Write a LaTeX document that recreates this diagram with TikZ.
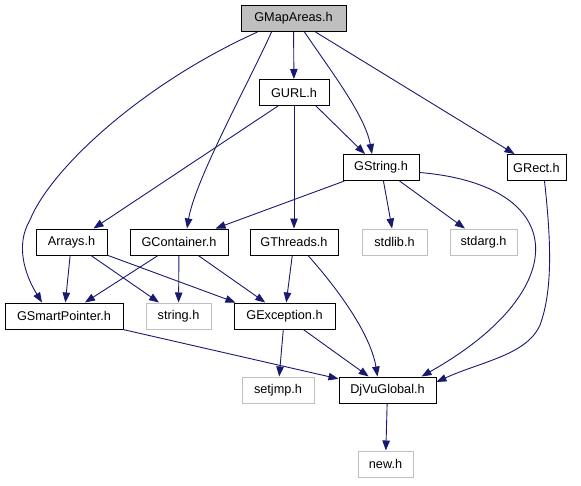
\documentclass[tikz,border=0pt]{standalone}
\usepackage{fontspec}
\setmainfont{Liberation Sans}
\usetikzlibrary{arrows.meta}
\definecolor{edgeblue}{RGB}{25,25,112}
\definecolor{sysgray}{RGB}{191,191,191}

\begin{document}
\begin{tikzpicture}[x=1pt,y=-1pt,
  file/.style={draw=black, line width=1pt, minimum height=26pt, inner sep=0pt,
    font=\fontsize{12.7}{15}\selectfont},
  sysfile/.style={file, draw=sysgray},
  dep/.style={edgeblue, line width=0.9pt, -{Triangle[length=10pt,width=7.5pt]}}]
\useasboundingbox (0,0) rectangle (581,485);
% project headers
\node[file, fill=sysgray, minimum width=105pt] (gmapareas) at (293.5,18.5) {GMapAreas.h};
\node[file, minimum width=70pt] (gurl) at (294,92.5) {GURL.h};
\node[file, minimum width=76pt] (gstring) at (381,167.5) {GString.h};
\node[file, minimum width=59pt] (grect) at (536.5,167.5) {GRect.h};
\node[file, minimum width=71pt] (arrays) at (71.5,242) {Arrays.h};
\node[file, minimum width=98pt] (gcontainer) at (179,242) {GContainer.h};
\node[file, minimum width=88pt] (gthreads) at (294,242) {GThreads.h};
\node[file, minimum width=118pt] (gsmartpointer) at (64,316) {GSmartPointer.h};
\node[file, minimum width=101pt] (gexception) at (284.5,316) {GException.h};
\node[file, minimum width=97pt] (djvuglobal) at (387.5,390) {DjVuGlobal.h};
% system headers
\node[sysfile, minimum width=65pt] (stdlib) at (394.5,242) {stdlib.h};
\node[sysfile, minimum width=67pt] (stdarg) at (483.5,242) {stdarg.h};
\node[sysfile, minimum width=65pt] (string) at (178.5,316) {string.h};
\node[sysfile, minimum width=72pt] (setjmp) at (278,390) {setjmp.h};
\node[sysfile, minimum width=55pt] (new) at (385.5,464) {new.h};

% GMapAreas.h
\draw[dep] (gmapareas) -- (gurl);
\draw[dep] (gmapareas) -- (grect);
\draw[dep] ([xshift=11pt]gmapareas.south) .. controls (330,70) and (365,115) .. ([xshift=-9pt]gstring.north);
\draw[dep] ([xshift=-22pt]gmapareas.south) .. controls (250,80) and (195,180) .. ([xshift=8pt]gcontainer.north);
\draw[dep] ([xshift=-36pt]gmapareas.south) .. controls (140,85) and (50,170) .. (30,220)
  .. controls (15,245) and (25,275) .. ([xshift=-22pt]gsmartpointer.north);
% GURL.h
\draw[dep] ([xshift=-16pt]gurl.south) -- ([xshift=22pt]arrays.north);
\draw[dep] (gurl) -- (gthreads);
\draw[dep] ([xshift=22pt]gurl.south) -- ([xshift=-16pt]gstring.north);
% GString.h
\draw[dep] (gstring) -- (gcontainer);
\draw[dep] (gstring) -- (stdlib);
\draw[dep] (gstring) -- (stdarg);
\draw[dep] ([yshift=-5pt]gstring.east) .. controls (570,185) and (575,290) .. ([xshift=-15pt]djvuglobal.north east);
% GRect.h
\draw[dep] ([xshift=8pt]grect.south) .. controls (551,240) and (553,290) .. (540,325)
  .. controls (527,355) and (480,362) .. ([yshift=8pt]djvuglobal.east);
% Arrays.h, GContainer.h, GThreads.h
\draw[dep] (arrays) -- (gsmartpointer);
\draw[dep] (arrays) -- (string);
\draw[dep] (arrays) -- ([xshift=2pt]gexception.north west);
\draw[dep] (gcontainer) -- (gsmartpointer);
\draw[dep] (gcontainer) -- (string);
\draw[dep] (gcontainer) -- (gexception);
\draw[dep] (gthreads) -- (gexception);
\draw[dep] ([xshift=14pt]gthreads.south) .. controls (330,280) and (370,330) .. ([xshift=-10pt]djvuglobal.north);
% lower rows
\draw[dep] (gsmartpointer) -- (djvuglobal);
\draw[dep] (gexception) -- (setjmp);
\draw[dep] (gexception) -- (djvuglobal);
\draw[dep] (djvuglobal) -- (new);
\end{tikzpicture}
\end{document}
